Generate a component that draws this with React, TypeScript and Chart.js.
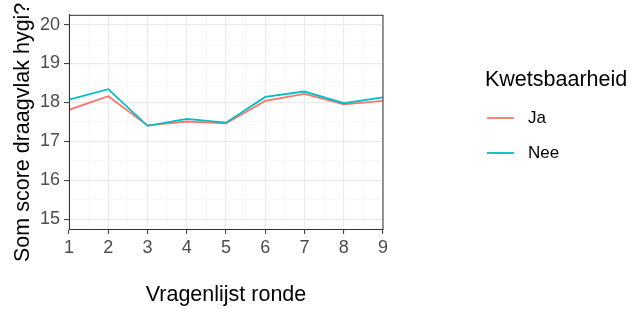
import React, { useEffect, useRef } from "react";
import { Chart, registerables } from "chart.js";

Chart.register(...registerables);

const rounds = [1, 2, 3, 4, 5, 6, 7, 8, 9];
const jaValues = [17.81, 18.16, 17.41, 17.51, 17.46, 18.04, 18.22, 17.95, 18.04];
const neeValues = [18.07, 18.34, 17.4, 17.58, 17.48, 18.14, 18.28, 17.98, 18.13];
const seriesNames = ["Ja", "Nee"];
const seriesColors = ["#F8766D", "#00BFC4"];
const xTicks = [1, 2, 3, 4, 5, 6, 7, 8, 9];
const yTicks = [15, 16, 17, 18, 19, 20];
const xTitle = "Vragenlijst ronde";
const yTitle = "Som score draagvlak hygi?";
const legendTitle = "Kwetsbaarheid";

const FONT = "'Liberation Sans', Arial, sans-serif";

const withMinor = (major: number[]) => {
  const out: number[] = [];
  major.forEach((v, i) => {
    out.push(v);
    if (i < major.length - 1) out.push((v + major[i + 1]) / 2);
  });
  return out;
};

const isMajor = (v: number) => Math.abs(v - Math.round(v)) < 1e-9;

export default function App() {
  const ref = useRef<HTMLCanvasElement | null>(null);

  useEffect(() => {
    if (!ref.current) return;

    const overlay = {
      id: "overlay",
      afterDraw(chart: any) {
        const { ctx, chartArea } = chart;
        ctx.save();
        // panel border
        ctx.strokeStyle = "#333333";
        ctx.lineWidth = 1;
        ctx.strokeRect(
          chartArea.left + 0.5,
          chartArea.top + 0.5,
          chartArea.right - chartArea.left - 0.5,
          chartArea.bottom - chartArea.top
        );
        // legend
        ctx.fillStyle = "#000000";
        ctx.textAlign = "left";
        ctx.textBaseline = "middle";
        ctx.font = `21.5px ${FONT}`;
        ctx.fillText(legendTitle, 485, 80);
        ctx.font = `17px ${FONT}`;
        chart.data.datasets.forEach((ds: any, i: number) => {
          const y = 118 + i * 35;
          ctx.strokeStyle = ds.borderColor;
          ctx.lineWidth = 1.8;
          ctx.beginPath();
          ctx.moveTo(487, y);
          ctx.lineTo(514, y);
          ctx.stroke();
          ctx.fillStyle = "#000000";
          ctx.fillText(ds.label, 528, y);
        });
        // y axis title
        ctx.translate(29, 262);
        ctx.rotate(-Math.PI / 2);
        ctx.font = `21.5px ${FONT}`;
        ctx.textBaseline = "alphabetic";
        ctx.fillText(yTitle, 0, 0);
        ctx.restore();
      },
    };

    const gridColor = (c: any) =>
      c.tick && isMajor(c.tick.value) ? "#EBEBEB" : "#F5F5F5";
    const gridWidth = (c: any) => (c.tick && isMajor(c.tick.value) ? 1.2 : 0.7);
    const tickColor = (c: any) =>
      c.tick && isMajor(c.tick.value) ? "#333333" : "rgba(0,0,0,0)";

    const chart = new Chart(ref.current, {
      type: "line",
      data: {
        datasets: [
          {
            label: seriesNames[0],
            data: rounds.map((r, i) => ({ x: r, y: jaValues[i] })),
            borderColor: seriesColors[0],
            backgroundColor: seriesColors[0],
            borderWidth: 1.8,
            pointRadius: 0,
            tension: 0,
            order: 1,
          },
          {
            label: seriesNames[1],
            data: rounds.map((r, i) => ({ x: r, y: neeValues[i] })),
            borderColor: seriesColors[1],
            backgroundColor: seriesColors[1],
            borderWidth: 1.8,
            pointRadius: 0,
            tension: 0,
            order: 0,
          },
        ],
      },
      options: {
        animation: false,
        responsive: false,
        maintainAspectRatio: false,
        layout: { padding: { left: 0, right: 251, top: 6, bottom: 0 } },
        plugins: {
          legend: { display: false },
          tooltip: { enabled: false },
          title: { display: false },
        },
        scales: {
          x: {
            type: "linear",
            min: 1,
            max: 9,
            afterBuildTicks: (s: any) => {
              s.ticks = withMinor(xTicks).map((v) => ({ value: v }));
            },
            afterFit: (s: any) => {
              s.height = 80;
            },
            grid: {
              color: gridColor,
              lineWidth: gridWidth,
              tickColor: tickColor,
              tickLength: 5,
              drawTicks: true,
              tickWidth: 1,
            },
            border: { display: true, color: "#333333", width: 1 },
            ticks: {
              autoSkip: false,
              maxRotation: 0,
              padding: 3,
              color: "#4D4D4D",
              font: { family: FONT, size: 18 },
              callback: (v: any) => (isMajor(Number(v)) ? String(v) : ""),
            },
            title: {
              display: true,
              text: xTitle,
              color: "#000000",
              font: { family: FONT, size: 21.5 },
              padding: { top: 0, bottom: 1 },
            },
          },
          y: {
            type: "linear",
            min: 14.75,
            max: 20.25,
            afterBuildTicks: (s: any) => {
              s.ticks = withMinor(yTicks).map((v) => ({ value: v }));
            },
            afterFit: (s: any) => {
              s.width = 69;
            },
            grid: {
              color: gridColor,
              lineWidth: gridWidth,
              tickColor: tickColor,
              tickLength: 5,
              drawTicks: true,
              tickWidth: 1,
            },
            border: { display: true, color: "#333333", width: 1 },
            ticks: {
              autoSkip: false,
              padding: 4,
              color: "#4D4D4D",
              font: { family: FONT, size: 18 },
              callback: (v: any) => (isMajor(Number(v)) ? String(v) : ""),
            },
          },
        },
      },
      plugins: [overlay],
    } as any);

    return () => chart.destroy();
  }, []);

  return (
    <div style={{ position: "fixed", left: 0, top: 0, width: 634, height: 309, background: "#ffffff" }}>
      <canvas ref={ref} width={634} height={309} />
    </div>
  );
}
